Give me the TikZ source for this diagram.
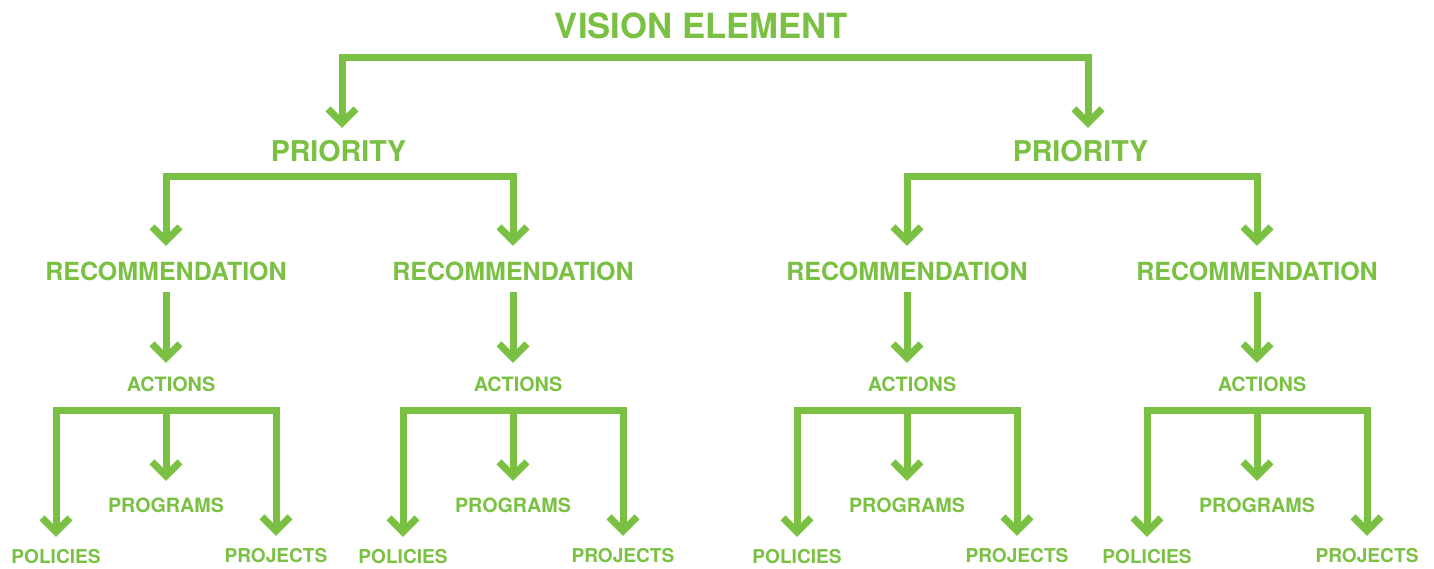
\documentclass[tikz,border=0pt]{standalone}
\usepackage{fontspec}
\setmainfont{TeX Gyre Heros}
\usetikzlibrary{arrows.meta}
\definecolor{leafgreen}{HTML}{7AC143}

\begin{document}
\begin{tikzpicture}[x=1pt, y=-1pt,
        link/.style={draw=leafgreen, line width=7pt},
        >={Straight Barb[sharp, length=14pt, width=28pt]},
        lbl/.style={text=leafgreen, inner sep=0pt, anchor=base},
        vision/.style={lbl, font=\bfseries\fontsize{34.7}{40}\selectfont, text depth=18pt},
        priority/.style={lbl, font=\bfseries\fontsize{28.6}{34}\selectfont, text height=34pt, text depth=14pt},
        recom/.style={lbl, font=\bfseries\fontsize{25}{30}\selectfont, text height=34pt, text depth=12pt},
        action/.style={lbl, font=\bfseries\fontsize{19.8}{24}\selectfont, text height=28pt, text depth=19pt},
        program/.style={lbl, font=\bfseries\fontsize{19.7}{24}\selectfont, text height=31pt},
        outcome/.style={lbl, font=\bfseries\fontsize{19.1}{23}\selectfont, text height=26pt}]
        \useasboundingbox (0,0) rectangle (1434,569);

        % top of the tree
        \node[vision] (vis) at (701.5,39) {VISION ELEMENT};
        \node[priority] (pri1) at (338.5,162) {PRIORITY};
        \node[priority] (pri2) at (1080.5,162) {PRIORITY};

        \draw[link, <->] ([xshift=3.5pt]pri1.north) |- (vis.south) -| ([xshift=7.5pt]pri2.north);

        % one branch per recommendation
        \foreach \x/\n in {166/1, 513/2, 907/3, 1257/4} {
                \node[recom] (rec\n) at (\x,280) {RECOMMENDATION};
                \node[action] (act\n) at (\x+5,391) {ACTIONS};
                \node[program] (prog\n) at (\x,512) {PROGRAMS};
                \node[outcome] (pol\n) at (\x-110,563) {POLICIES};
                \node[outcome] (proj\n) at (\x+110,562) {PROJECTS};

                \draw[link, ->] (rec\n.south) -- (rec\n.south |- act\n.north);
                \draw[link, <->] (pol\n.north) |- (act\n.south) -| (proj\n.north);
                \draw[link, ->] (prog\n.north |- act\n.south) -- (prog\n.north);
        }

        \draw[link, <->] (rec1.north) |- (pri1.south) -| (rec2.north);
        \draw[link, <->] (rec3.north) |- (pri2.south) -| (rec4.north);
\end{tikzpicture}
\end{document}
